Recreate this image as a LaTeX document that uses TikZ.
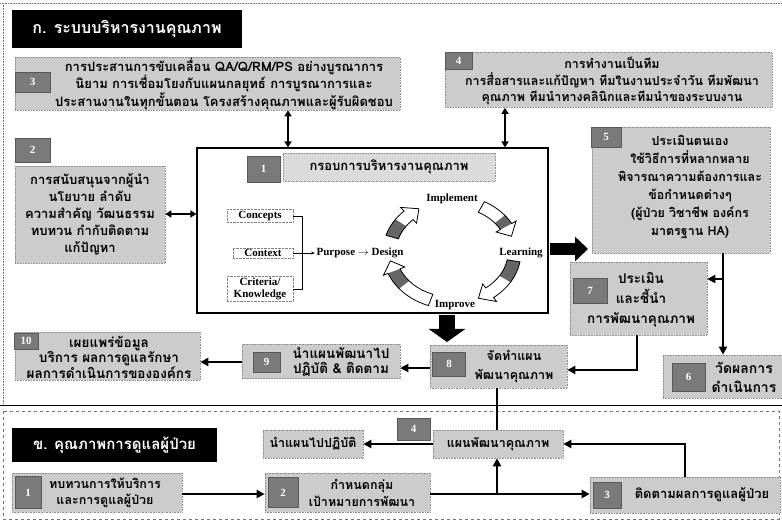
\documentclass[tikz,border=0pt]{standalone}
\usepackage{fontspec}
\setmainfont{Liberation Serif}
\newfontfamily\thai[Script=Thai]{Loma}
\usetikzlibrary{arrows.meta,calc}
\tikzset{
  gbox/.style={rectangle, fill=black!20, draw=black!45, densely dotted, line width=0.6pt, inner sep=0pt},
  badge/.style={rectangle, fill=black!52, draw=black!65, solid, line width=0.5pt, inner sep=0pt, text=white, font=\bfseries\fontsize{11}{12}\selectfont},
  hdr/.style={rectangle, fill=black, text=white, inner sep=0pt, font=\thai\bfseries\fontsize{16}{18}\selectfont},
  th/.style={align=center, inner sep=0pt, font=\thai\bfseries\fontsize{12.5}{16.5}\selectfont},
  en/.style={align=center, inner sep=1.5pt, font=\bfseries\fontsize{11}{12}\selectfont},
  conn/.style={line width=2.2pt, -{Triangle[length=8pt,width=8pt]}},
  dconn/.style={line width=2pt, {Triangle[length=6pt,width=7pt]}-{Triangle[length=6pt,width=7pt]}},
  plainln/.style={line width=2.2pt},
  fatR/.style={line width=12pt, -{Triangle[length=13pt,width=24pt]}},
  fatD/.style={line width=16pt, -{Triangle[length=13pt,width=36pt]}},
}
\newcommand\rseg[4]{%
 \fill[white] (#1:69 and 57) arc[start angle=#1,end angle={#2+12},x radius=69,y radius=57] -- ({#2+12}:74 and 62) -- (#2:62.5 and 51) -- ({#2+12}:51 and 40) -- ({#2+12}:56 and 45) arc[start angle={#2+12},end angle=#1,x radius=56,y radius=45] -- cycle;
 \fill[black!60] (#3:69 and 57) arc[start angle=#3,end angle=#4,x radius=69,y radius=57] -- (#4:56 and 45) arc[start angle=#4,end angle=#3,x radius=56,y radius=45] -- cycle;
 \draw[line width=0.8pt] (#1:69 and 57) arc[start angle=#1,end angle={#2+12},x radius=69,y radius=57] -- ({#2+12}:74 and 62) -- (#2:62.5 and 51) -- ({#2+12}:51 and 40) -- ({#2+12}:56 and 45) arc[start angle={#2+12},end angle=#1,x radius=56,y radius=45] -- cycle;
}
\begin{document}
\begin{tikzpicture}[x=1pt,y=-1pt]
\useasboundingbox (0,0) rectangle (782,521);
\fill[white] (0,0) rectangle (782,521);
% frames
\draw[black!55, densely dotted, line width=0.6pt] (0,3) -- (782,3);
\draw[black!55, densely dotted, line width=0.6pt] (3,3) -- (3,405);
\draw[line width=0.8pt] (0,405) -- (782,405);
\draw[black!55, dashed, line width=0.6pt] (3,411) rectangle (779,519);

% header A
\node[hdr, minimum width=230pt, minimum height=38pt] (hA) at (127,29) {ก. ระบบบริหารงานคุณภาพ};

% box 3
\node[gbox, minimum width=385pt, minimum height=53pt] (b3) at (207.5,83.5) {};
\node[th, font=\thai\bfseries\fontsize{13}{17}\selectfont] (t3) at (224,84) {การประสานการขับเคลื่อน QA/Q/RM/PS อย่างบูรณาการ\\นิยาม การเชื่อมโยงกับแผนกลยุทธ์ การบูรณาการและ\\ประสานงานในทุกขั้นตอน โครงสร้างคุณภาพและผู้รับผิดชอบ};
\node[badge, minimum width=35pt, minimum height=20pt] (n3) at (32.5,82) {3};

% box 4
\node[gbox, minimum width=327pt, minimum height=55pt] (b4) at (608.5,80) {};
\node[th] (t4) at (612,81) {การทำงานเป็นทีม\\การสื่อสารและแก้ปัญหา ทีมในงานประจำวัน ทีมพัฒนา\\คุณภาพ ทีมนำทางคลินิกและทีมนำของระบบงาน};
\node[badge, minimum width=27pt, minimum height=17pt] (n4) at (458.5,61) {4};

% central box 1
\node[draw, line width=1.2pt, fill=white, minimum width=351pt, minimum height=165pt] (C) at (372.5,230.5) {};
\node[gbox, fill=black!14, minimum width=212pt, minimum height=28pt] (c1t) at (389,167) {};
\node[th, font=\thai\bfseries\fontsize{13}{16}\selectfont] (t1) at (389,167) {กรอบการบริหารงานคุณภาพ};
\node[badge, minimum width=33pt, minimum height=26pt] (n1) at (263.5,169) {1};

\node[en, draw=black!50, densely dotted, line width=0.4pt, minimum width=66pt] (cc1) at (260,216) {Concepts};
\node[en, draw=black!50, densely dotted, line width=0.4pt, minimum width=60pt] (cc2) at (263,253) {Context};
\node[en, draw=black!50, densely dotted, line width=0.4pt, minimum width=66pt] (cc3) at (260,289) {Criteria/\\Knowledge};
\coordinate (brk) at (302,0);
\draw[line width=0.9pt] (cc1.east) -- (cc1.east -| brk) -- (cc3.east -| brk) -- (cc3.east);
\node[en] (pd) at (360,253) {Purpose $\rightarrow$ Design};
\draw[line width=0.9pt, -{Stealth[length=4pt]}] (cc2.east) -- (pd.west);

\begin{scope}[shift={(452,252)}, yscale=-1]
\rseg{163}{122}{163}{145}
\rseg{62}{18}{40}{30}
\rseg{-10}{-65}{-10}{-32}
\rseg{-110}{-170}{-140}{-158}
\end{scope}
\node[en] (lImp) at (452,199) {Implement};
\node[en] (lLea) at (521,253) {Learning};
\node[en] (lImpr) at (455,305) {Improve};

% box 2
\node[badge, minimum width=35pt, minimum height=24pt] (n2) at (32.5,150) {2};
\node[gbox, minimum width=150pt, minimum height=97pt] (b2) at (90,215) {};
\node[th, font=\thai\bfseries\fontsize{13}{17}\selectfont] (t2) at (90,214) {การสนับสนุนจากผู้นำ\\นโยบาย ลำดับ\\ความสำคัญ วัฒนธรรม\\ทบทวน กำกับติดตาม\\แก้ปัญหา};

% box 5
\node[gbox, minimum width=178pt, minimum height=126pt] (b5) at (681,190) {};
\node[th, font=\thai\bfseries\fontsize{12.5}{18}\selectfont] (t5) at (690,187) {ประเมินตนเอง\\ใช้วิธีการที่หลากหลาย\\พิจารณาความต้องการและ\\ข้อกำหนดต่างๆ\\(ผู้ป่วย วิชาชีพ องค์กร\\มาตรฐาน HA)};
\node[badge, minimum width=30pt, minimum height=20pt] (n5) at (606,137) {5};

% box 7
\node[gbox, minimum width=137pt, minimum height=73pt] (b7) at (638.5,298.5) {};
\node[th, font=\thai\bfseries\fontsize{13.5}{20}\selectfont] (t7) at (641,300) {ประเมิน\\และชี้นำ\\การพัฒนาคุณภาพ};
\node[badge, minimum width=34pt, minimum height=25pt] (n7) at (590,290.5) {7};

% box 6
\node[gbox, minimum width=119pt, minimum height=43pt] (b6) at (722.5,376.5) {};
\node[th, font=\thai\bfseries\fontsize{14}{19}\selectfont] (t6) at (744,377) {วัดผลการ\\ดำเนินการ};
\node[badge, minimum width=33pt, minimum height=28pt] (n6) at (688.5,377) {6};

% box 8
\node[gbox, minimum width=137pt, minimum height=43pt] (b8) at (498.5,366.5) {};
\node[th, font=\thai\bfseries\fontsize{12.5}{19}\selectfont] (t8) at (514,367) {จัดทำแผน\\พัฒนาคุณภาพ};
\node[badge, minimum width=33pt, minimum height=24pt] (n8) at (449,364) {8};

% box 9
\node[gbox, minimum width=158pt, minimum height=34pt] (b9) at (321,361.5) {};
\node[th, font=\thai\bfseries\fontsize{13.5}{15.5}\selectfont] (t9) at (341,362) {นำแผนพัฒนาไป\\ปฏิบัติ \& ติดตาม};
\node[badge, minimum width=27pt, minimum height=20pt] (n9) at (266.5,362) {9};

% box 10
\node[gbox, minimum width=185pt, minimum height=48pt] (b10) at (107.5,356) {};
\node[th, font=\thai\bfseries\fontsize{13.5}{15}\selectfont] (t10) at (109,357) {เผยแพร่ข้อมูล\\บริการ ผลการดูแลรักษา\\ผลการดำเนินการขององค์กร};
\node[badge, minimum width=24pt, minimum height=16pt] (n10) at (26,341) {10};

% lower section
\node[hdr, font=\thai\bfseries\fontsize{15}{18}\selectfont, minimum width=205pt, minimum height=34pt] (hB) at (114.5,445) {ข. คุณภาพการดูแลผู้ป่วย};
\node[gbox, minimum width=130pt, minimum height=28pt] (bPlan) at (498,444) {};
\node[th] (tPlan) at (498,444) {แผนพัฒนาคุณภาพ};
\node[badge, minimum width=33pt, minimum height=22pt] (m4) at (413.5,429) {4};
\node[gbox, minimum width=100pt, minimum height=28pt] (bDo) at (313,444) {};
\node[th] (tDo) at (313,444) {นำแผนไปปฏิบัติ};

\node[gbox, minimum width=170pt, minimum height=39pt] (p1) at (97,492.5) {};
\node[th] (tp1) at (105,493) {ทบทวนการให้บริการ\\และการดูแลผู้ป่วย};
\node[badge, minimum width=26pt, minimum height=32pt] (m1) at (28,492.5) {1};
\node[gbox, minimum width=165pt, minimum height=39pt] (p2) at (347.5,492.5) {};
\node[th] (tp2) at (362,493) {กำหนดกลุ่ม\\เป้าหมายการพัฒนา};
\node[badge, minimum width=30pt, minimum height=30pt] (m2) at (283,492.5) {2};
\node[gbox, minimum width=190pt, minimum height=36pt] (p3) at (685,495) {};
\node[th, font=\thai\bfseries\fontsize{13}{16}\selectfont] (tp3) at (702,495) {ติดตามผลการดูแลผู้ป่วย};
\node[badge, minimum width=28pt, minimum height=26pt] (m3) at (607,495) {3};

% connectors
\coordinate (ax1) at (288,0);
\coordinate (ax2) at (505,0);
\coordinate (ax3) at (723,0);
\coordinate (ax4) at (637,0);
\coordinate (ax5) at (497,0);
\coordinate (ax6) at (685,0);
\coordinate (ay1) at (0,214);
\coordinate (ay2) at (0,279);
\coordinate (ay3) at (0,370);
\coordinate (ay4) at (0,368);
\coordinate (ay5) at (0,362);
\coordinate (ay6) at (0,494);
\draw[dconn] (b3.south -| ax1) -- (C.north -| ax1);
\draw[dconn] (b4.south -| ax2) -- (C.north -| ax2);
\draw[dconn] (b2.east |- ay1) -- (C.west |- ay1);
\draw[conn] (b5.south -| ax3) -- (b6.north -| ax3);
\draw[conn] (ax3 |- ay2) -- (b7.east |- ay2);
\draw[conn] (b7.south -| ax4) -- (ax4 |- ay3) -- (b8.east |- ay3);
\draw[conn] (b8.west |- ay4) -- (b9.east |- ay4);
\draw[conn] (b9.west |- ay5) -- (b10.east |- ay5);
\draw[plainln] (b8.south -| ax5) -- (bPlan.north -| ax5);
\draw[conn] (bPlan.west) -- (bDo.east);
\draw[conn] (p1.east |- ay6) -- (p2.west |- ay6);
\draw[conn] (p2.east |- ay6) -- (p3.west |- ay6);
\draw[conn] (ax5 |- ay6) -- (bPlan.south -| ax5);
\draw[conn] (p3.north -| ax6) -- (ax6 |- bPlan.east) -- (bPlan.east);

% fat arrows
\coordinate (fa1) at (550,249);
\coordinate (fa2) at (588,249);
\draw[fatR] (fa1) -- (fa2);
\coordinate (fd1) at (447,315);
\coordinate (fd2) at (447,342);
\draw[fatD] (fd1) -- (fd2);
\end{tikzpicture}
\end{document}
